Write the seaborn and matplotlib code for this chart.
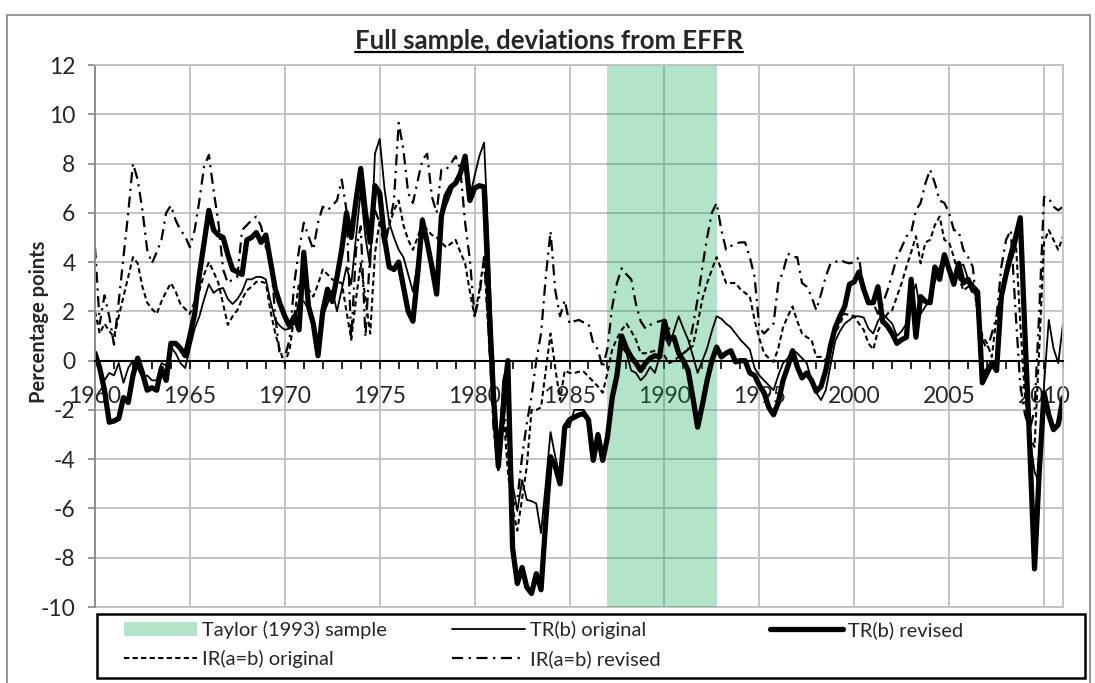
import numpy as np
import pandas as pd
import matplotlib
matplotlib.use("Agg")
import matplotlib.pyplot as plt
import seaborn as sns
from matplotlib.lines import Line2D
from matplotlib.patches import Patch, Rectangle
from matplotlib.ticker import MultipleLocator

# quarterly sample 1960Q1 - 2011Q1
quarters = pd.period_range("1960Q1", "2011Q1", freq="Q")

# TR(b) original (thin solid)
tr_original = [
    0.4, -0.3, -0.8, -0.5,   -0.6, -0.1, -0.9, -0.3,   0.0, -0.3, -0.7, -0.6,   -0.8, -0.8, -0.1, -0.2,
    0.55, 0.3, -0.1, -0.3,   0.5, 1.3, 1.8, 2.5,   3.1, 2.75, 2.9, 2.95,   2.5, 2.3, 2.5, 2.8,
    3.3, 3.3, 3.4, 3.4,   3.3, 2.4, 1.65, 1.4,   1.25, 1.3, 1.5, 2.45,   2.4, 2.1, 1.4, 0.85,
    1.8, 2.3, 2.85, 2.0,   2.9, 3.8, 3.1, 5.0,   6.9, 5.0, 3.8, 8.4,   9.0, 7.0, 5.6, 5.0,
    4.5, 4.2, 3.5, 2.8,   4.0, 5.8, 5.0, 4.0,   3.15, 5.85, 6.3, 6.8,   7.35, 7.6, 8.0, 6.65,
    7.5, 8.3, 8.85, 4.5,   -1.0, -4.2, -0.8, 0.0,   -5.0, -6.1, -4.85, -5.65,   -5.7, -5.8, -7.0, -5.0,
    -2.9, -3.9, -4.7, -2.7,   -2.7, -2.0, -2.0, -2.0,   -2.3, -3.9, -2.95, -3.9,   -3.0, -1.3, -0.3, 0.55,
    0.3, -0.4, -0.5, -0.8,   -0.6, -0.25, -0.5, 0.2,   1.0, 0.6, 1.2, 1.8,   1.3, 0.85, 0.2, -0.5,
    0.0, 0.5, 1.2, 1.8,   1.7, 1.5, 1.35, 1.1,   0.85, 0.65, 0.45, -0.3,   -0.6, -0.8, -1.0, -1.2,
    -0.6, -0.1, 0.1, 0.45,   0.3, 0.1, -0.1, -0.8,   -1.3, -1.6, -1.2, -0.2,   0.8, 1.2, 1.5, 1.65,
    1.8, 1.8, 1.75, 1.3,   1.1, 1.6, 1.9, 1.7,   1.5, 1.0, 1.2, 1.5,   2.6, 3.1, 1.9, 2.2,
    2.45, 3.2, 3.8, 4.2,   3.8, 3.4, 3.8, 3.9,   3.3, 3.1, 2.9, -0.5,   -0.3, 0.0, -0.2, 2.4,
    3.3, 4.0, 4.6, 5.6,   0.5, -3.1, -4.5, -5.0,   -1.0, 1.65, 0.5, -0.1,   1.5,
]

# TR(b) revised (thick solid)
tr_revised = [
    0.3, -0.3, -1.2, -2.5,   -2.45, -2.35, -1.5, -1.7,   -0.6, 0.1, -0.5, -1.2,   -1.1, -1.2, -0.3, -0.8,
    0.7, 0.7, 0.5, 0.2,   1.0, 1.9, 3.5, 4.8,   6.1, 5.3, 5.1, 5.0,   4.3, 3.7, 3.6, 3.5,
    4.9, 5.0, 5.2, 4.8,   5.1, 4.0, 2.9, 2.3,   1.8, 1.4, 1.8, 1.25,   4.4, 2.2, 1.5, 0.2,
    2.0, 2.9, 2.4, 3.4,   4.5, 6.0, 5.0, 6.5,   7.8, 6.0, 4.8, 7.1,   6.8, 5.0, 3.8, 3.7,
    4.0, 3.0, 2.0, 1.6,   3.5, 5.7, 4.8, 3.8,   2.7, 5.85, 6.7, 7.05,   7.2, 7.6, 8.3, 6.5,
    7.0, 7.1, 7.05, 2.5,   -1.5, -4.3, -2.0, 0.0,   -7.6, -9.05, -8.4, -9.2,   -9.45, -8.65, -9.3, -6.5,
    -3.9, -4.3, -5.0, -2.7,   -2.4, -2.3, -2.2, -2.15,   -2.4, -4.05, -3.0, -4.05,   -3.1, -1.5, -0.6, 1.0,
    0.5, 0.15, -0.1, -0.4,   -0.1, 0.1, 0.2, 0.15,   1.6, 0.85, 0.95, 0.3,   0.0, -0.4, -1.5, -2.7,
    -1.8, -0.8, 0.0, 0.55,   0.15, 0.3, 0.4, -0.05,   0.0, 0.0, -0.5, -0.6,   -1.0, -1.3, -1.9, -2.2,
    -1.7, -0.8, -0.25, 0.4,   -0.25, -0.7, -0.5, -0.8,   -1.25, -1.05, -0.4, 0.6,   1.35, 1.8, 2.2, 3.1,
    3.2, 3.6, 2.9, 2.35,   2.35, 3.0, 1.6, 1.4,   1.1, 0.7, 0.85, 0.95,   3.3, 0.95, 2.6, 2.4,
    2.35, 3.8, 3.3, 4.3,   3.7, 3.1, 3.95, 3.15,   3.3, 2.85, 2.8, -0.9,   -0.5, -0.1, -0.4, 2.6,
    3.5, 4.3, 5.0, 5.8,   1.0, -3.5, -8.45, -4.5,   -1.3, -2.2, -2.8, -2.6,   -1.5,
]

# IR(a=b) original (dashed)
ir_original = [
    2.0, 1.1, 1.5, 1.2,   0.95, 1.8, 2.6, 3.4,   4.2, 3.95, 3.0, 2.35,   2.1, 1.9, 2.4, 2.8,
    3.15, 2.8, 2.3, 2.1,   1.9, 2.4, 2.85, 3.5,   4.0, 3.6, 3.15, 2.3,   1.45, 1.8, 2.05, 2.5,
    2.85, 3.0, 3.2, 3.2,   3.15, 2.0, 1.1, 0.4,   -0.1, 0.45, 1.8, 3.15,   3.1, 2.9, 2.6, 3.1,
    3.7, 3.5, 3.3, 3.2,   3.15, 2.0, 0.85, 2.5,   3.95, 2.5, 1.1, 4.35,   5.7, 5.05, 5.5, 6.1,
    6.5, 5.5, 4.9, 4.5,   5.0, 5.6, 5.3, 5.1,   5.0, 4.8, 4.6, 4.75,   4.9, 4.4, 3.95, 2.8,
    1.8, 2.85, 4.2, 0.85,   -2.15, -4.45, -1.9, -4.5,   -6.0, -6.9, -5.6, -4.3,   -2.0, -2.0, -1.9, -0.4,
    1.1, -0.3, -1.6, -0.4,   -0.5, -0.5, -0.45, -0.45,   -0.65, -0.85, -1.05, -1.3,   -0.5, 0.45, 0.9, 1.25,
    1.5, 1.2, 0.85, 0.3,   0.3, 0.35, 0.4, 0.45,   0.2, -0.1, 0.0, 0.15,   0.3, 0.45, 0.6, 1.5,
    2.5, 3.15, 3.7, 4.2,   3.7, 3.15, 3.15, 3.15,   2.9, 2.75, 2.6, 1.65,   0.9, 0.3, 0.1, -0.05,
    0.5, 1.35, 1.8, 2.2,   1.6, 1.1, 0.95, 0.85,   0.15, 0.15, 0.0, 0.5,   1.1, 1.5, 1.9, 1.85,
    1.8, 1.5, 1.25, 0.7,   0.45, 1.2, 1.6, 1.9,   2.05, 2.6, 3.15, 3.8,   4.4, 5.05, 3.95, 4.8,
    4.9, 5.5, 5.85, 4.9,   4.8, 4.2, 3.4, 2.85,   3.0, 3.15, 2.05, 1.0,   0.7, 0.15, 1.8, 2.85,
    3.8, 4.5, 5.05, 1.5,   -1.5, -3.1, -3.5, 0.5,   4.8, 5.3, 4.9, 4.5,   5.05,
]

# IR(a=b) revised (dash-dot)
ir_revised = [
    4.6, 1.5, 2.65, 1.8,   0.65, 2.4, 4.2, 6.0,   8.0, 7.35, 6.1, 4.5,   3.95, 4.4, 4.9, 6.0,
    6.3, 5.7, 5.3, 5.05,   4.6, 5.3, 6.5, 7.9,   8.35, 6.9, 5.6, 3.7,   3.15, 3.3, 3.4, 5.3,
    5.5, 5.7, 5.85, 5.45,   4.6, 4.2, 1.8, 0.15,   0.15, 0.85, 3.15, 4.5,   5.6, 5.05, 4.5, 5.6,
    6.25, 6.1, 6.3, 6.5,   7.35, 6.1, 0.85, 4.5,   5.45, 0.95, 4.5, 6.1,   5.6, 4.6, 5.5, 6.5,
    9.65, 8.55, 6.8, 6.4,   7.3, 8.15, 8.4, 6.65,   6.0, 7.75, 7.75, 8.0,   8.3, 7.75, 5.6, 4.1,
    1.8, 2.6, 4.2, 1.0,   -2.8, -4.3, -1.5, -3.5,   -5.9, -5.65, -3.9, -2.55,   -1.45, 0.0, 1.1, 3.4,
    5.25, 2.85, 1.8, 2.45,   1.5, 1.6, 1.65, 1.55,   1.5, 0.7, 0.45, -0.3,   0.5, 2.2, 3.15, 3.75,
    3.5, 3.3, 2.3, 1.6,   1.3, 1.45, 1.55, 1.6,   1.65, 1.3, 0.95, 0.2,   0.3, 0.45, 1.4, 2.5,
    3.8, 5.0, 6.0, 6.4,   5.3, 4.5, 4.65, 4.75,   4.8, 4.8, 4.2, 3.4,   1.35, 1.1, 1.3, 1.5,
    3.15, 3.6, 4.35, 4.2,   4.2, 3.15, 3.0, 2.6,   2.05, 2.7, 3.4, 3.95,   4.0, 4.1, 4.0, 3.95,
    4.0, 4.2, 2.85, 2.5,   2.35, 1.9, 2.3, 2.85,   3.5, 4.2, 4.6, 5.05,   5.2, 6.1, 6.4, 7.2,
    7.75, 7.2, 6.5, 6.4,   6.0, 5.3, 5.25, 4.5,   4.2, 3.8, 1.8, 0.85,   0.45, 1.1, 1.8, 3.8,
    4.9, 5.3, 2.0, -1.0,   -2.2, -2.8, -2.0, 2.0,   6.65, 6.6, 6.25, 6.1,   6.25,
]

taylor_start, taylor_end = 1987.0, 1992.75
y_ticks = list(range(-10, 13, 2))
x_ticks = list(range(1960, 2011, 5))

df = pd.DataFrame({
    "year": quarters.year + (quarters.quarter - 1) / 4,
    "TR(b) original": tr_original,
    "TR(b) revised": tr_revised,
    "IR(a=b) original": ir_original,
    "IR(a=b) revised": ir_revised,
})

sns.set_theme(style="white")
plt.rcParams["font.family"] = ["Lato", "DejaVu Sans"]
plt.rcParams["axes.unicode_minus"] = False

W, H = 1095, 683
fig = plt.figure(figsize=(W / 100, H / 100), dpi=100)
ax = fig.add_axes([95 / W, 1 - 607 / H, 968 / W, 542 / H])
ax.set_axisbelow(True)

grid_c = "#bfbfbf"
ax.grid(True, which="major", color=grid_c, linewidth=1.3)
ax.axvspan(taylor_start, taylor_end, color="#00a651", alpha=0.3, lw=0, zorder=1)

styles = {
    "TR(b) original": dict(linewidth=1.3, linestyle="-"),
    "TR(b) revised": dict(linewidth=3.8, linestyle="-"),
    "IR(a=b) original": dict(linewidth=1.5, linestyle=(0, (2.5, 1.6))),
    "IR(a=b) revised": dict(linewidth=1.6, linestyle=(0, (5, 2.5, 1, 2.5))),
}
for name, st in styles.items():
    sns.lineplot(data=df, x="year", y=name, ax=ax, color="black", label=name, **st)
ax.get_legend().remove()

ax.set_xlim(1960, 2011)
ax.set_ylim(-10, 12)
ax.set_yticks(y_ticks)
ax.set_yticklabels([str(v) for v in y_ticks])
ax.set_xticks(x_ticks)
ax.set_xticklabels([str(v) for v in x_ticks])
ax.xaxis.set_minor_locator(MultipleLocator(1))
ax.tick_params(axis="x", which="both", direction="out", length=6, width=1.2,
               color="black", labelsize=16.5, pad=12, bottom=True)
ax.tick_params(axis="y", direction="out", length=5, width=1.2, color="#868686",
               labelsize=16.5, pad=9, left=True)
ax.set_xlabel("")
ax.set_ylabel("Percentage points", fontsize=14.5, fontweight="bold")
ax.yaxis.set_label_coords(-0.048, 0.526)

ax.spines["bottom"].set_position(("data", 0))
ax.spines["bottom"].set_color("black")
ax.spines["bottom"].set_linewidth(1.5)
ax.spines["left"].set_color("#868686")
ax.spines["left"].set_linewidth(1.3)
for s in ["top", "right"]:
    ax.spines[s].set_color(grid_c)
    ax.spines[s].set_linewidth(1.3)
ax.axhline(-10, color=grid_c, linewidth=1.3, clip_on=False, zorder=0.6)

# title with underline
title = fig.text(549 / W, 1 - 41 / H, "Full sample, deviations from EFFR",
                 ha="center", va="center", fontsize=18.5, fontweight="bold")
fig.canvas.draw()
bb = title.get_window_extent()
fig.add_artist(Line2D([bb.x0 / W, bb.x1 / W], [(bb.y0 + 1) / H, (bb.y0 + 1) / H],
                      transform=fig.transFigure, color="black", linewidth=1.6))

# chart border and legend frame
fig.add_artist(Rectangle((7 / W, -0.05), 1083 / W, 1.05 - 15 / H, transform=fig.transFigure,
                         fill=False, edgecolor="#8c8c8c", linewidth=1.3))
fig.add_artist(Rectangle((97 / W, 1 - 678 / H), 988 / W, 64 / H, transform=fig.transFigure,
                         fill=False, edgecolor="black", linewidth=1.8))

h = {name: Line2D([], [], color="black", **st) for name, st in styles.items()}
taylor_patch = Patch(facecolor="#00a651", alpha=0.3, edgecolor="none")
columns = [
    (124, [taylor_patch, h["IR(a=b) original"]], ["Taylor (1993) sample", "IR(a=b) original"]),
    (452, [h["TR(b) original"], h["IR(a=b) revised"]], ["TR(b) original", "IR(a=b) revised"]),
    (770, [h["TR(b) revised"]], ["TR(b) revised"]),
]
for x0, hs, ls in columns:
    leg = fig.legend(hs, ls, loc="upper left", bbox_to_anchor=(x0 / W, 1 - 621 / H),
                     frameon=False, fontsize=14.5, handlelength=3.6, handletextpad=0.25,
                     labelspacing=0.55, borderpad=0, borderaxespad=0)

fig.savefig("out.png", dpi=100)
